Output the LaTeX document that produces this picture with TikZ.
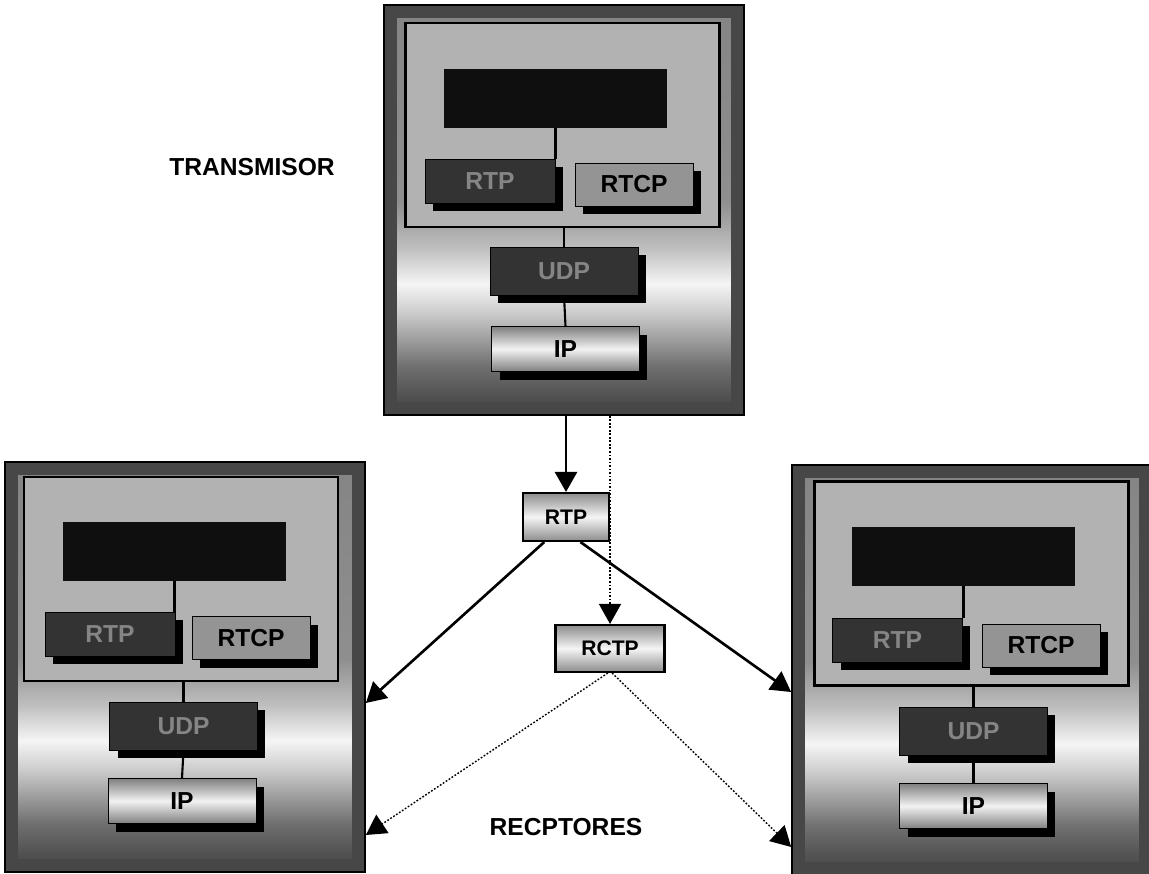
\documentclass[tikz,border=0pt]{standalone}
\usepackage{fontspec}
\setmainfont{Liberation Sans}
\usepackage{tikz}
\usetikzlibrary{arrows.meta,positioning}

\pgfdeclareverticalshading{fondo}{100bp}{color(0bp)=(black!75); color(25bp)=(black!75); color(31bp)=(black!56); color(37.5bp)=(black!20); color(41bp)=(black!4); color(45.5bp)=(black!26); color(51bp)=(black!44); color(75bp)=(black!48); color(100bp)=(black!48)}

\begin{document}
\begin{tikzpicture}[
    x=0.02cm, y=-0.02cm,
    panel/.style={draw, line width=1pt, fill=black!72, minimum width=7.2cm, minimum height=8.2cm, inner sep=0pt,
        path picture={
            \shade[shading=fondo] ([shift={(0.26cm,-0.26cm)}]path picture bounding box.north west) rectangle ([shift={(-0.26cm,0.26cm)}]path picture bounding box.south east);
        }},
    interior/.style={draw, line width=1.2pt, fill=black!30, minimum width=6.28cm, minimum height=4.08cm},
    app/.style={fill=black!94, minimum width=4.48cm, minimum height=1.18cm},
    sombra/.style={preaction={draw=none, fill=black, transform canvas={shift={(0.16cm,-0.16cm)}}}},
    oscura/.style={sombra, draw, fill=black!80, text=black!48, inner sep=0pt, font=\bfseries\fontsize{14}{16}\selectfont},
    clara/.style={sombra, draw, top color=black!50, bottom color=black!50, middle color=black!5, inner sep=0pt, font=\bfseries\fontsize{14}{16}\selectfont},
    media/.style={sombra, draw, fill=black!42, inner sep=0pt, minimum width=2.36cm, minimum height=0.86cm, font=\bfseries\fontsize{14}{16}\selectfont},
    caja/.style={draw, line width=1.2pt, top color=black!45, bottom color=black!45, middle color=black!4, inner sep=0pt, font=\bfseries\fontsize{12}{14}\selectfont},
    etiqueta/.style={font=\bfseries\fontsize{14}{16}\selectfont},
    enlace/.style={line width=1.2pt},
    flecha/.style={-{Triangle[length=0.4cm, width=0.44cm]}, line width=1.5pt},
    punteada/.style={-{Triangle[length=0.4cm, width=0.44cm]}, line width=0.8pt, dash pattern=on 1pt off 1pt}
]
    \useasboundingbox (0,0) rectangle (1149,873);

    % transmisor
    \node[panel] (tx) at (564,210) {};
    \node[interior] (tx-int) at (562.5,125) {};
    \node[app] (tx-app) at (555.5,98) {};
    \node[oscura, minimum width=2.6cm, minimum height=0.88cm] (tx-rtp) at (490,181) {RTP};
    \node[media] (tx-rtcp) at (634,184.5) {RTCP};
    \node[oscura, minimum width=2.96cm, minimum height=0.96cm] (tx-udp) at (564,271) {UDP};
    \node[clara, minimum width=2.96cm, minimum height=0.9cm] (tx-ip) at (565.5,349) {IP};
    \draw[enlace] (tx-app.south) -- (tx-app.south |- tx-rtp.north);
    \draw[enlace] (tx-int.south -| tx-udp) -- (tx-udp.north);
    \draw[enlace] (tx-udp.south) -- (tx-ip.north);

    % receptor izquierdo
    \node[panel] (ra) at (185,667) {};
    \node[interior] (ra-int) at (181,579) {};
    \node[app] (ra-app) at (174.5,551) {};
    \node[oscura, minimum width=2.6cm, minimum height=0.88cm] (ra-rtp) at (110,634) {RTP};
    \node[media] (ra-rtcp) at (251,638) {RTCP};
    \node[oscura, minimum width=2.96cm, minimum height=0.96cm] (ra-udp) at (183.5,726) {UDP};
    \node[clara, minimum width=2.96cm, minimum height=0.9cm] (ra-ip) at (182,801) {IP};
    \draw[enlace] (ra-app.south) -- (ra-app.south |- ra-rtp.north);
    \draw[enlace] (ra-int.south -| ra-udp) -- (ra-udp.north);
    \draw[enlace] (ra-udp.south) -- (ra-ip.north);

    % receptor derecho
    \node[panel] (rb) at (972,670) {};
    \node[interior] (rb-int) at (971.5,583.5) {};
    \node[app] (rb-app) at (963.5,556.5) {};
    \node[oscura, minimum width=2.6cm, minimum height=0.88cm] (rb-rtp) at (897.5,640) {RTP};
    \node[media] (rb-rtcp) at (1041,645.5) {RTCP};
    \node[oscura, minimum width=2.96cm, minimum height=0.96cm] (rb-udp) at (973.5,731) {UDP};
    \node[clara, minimum width=2.96cm, minimum height=0.9cm] (rb-ip) at (973.5,806) {IP};
    \draw[enlace] (rb-app.south) -- (rb-app.south |- rb-rtp.north);
    \draw[enlace] (rb-int.south -| rb-udp) -- (rb-udp.north);
    \draw[enlace] (rb-udp.south) -- (rb-ip.north);

    % paquetes
    \node[caja, minimum width=1.72cm, minimum height=0.96cm] (rtp) at (566,517) {RTP};
    \node[caja, minimum width=2.18cm, minimum height=0.94cm] (rctp) at (610,648.5) {RCTP};

    \node[etiqueta] (trans) at (252,167) {TRANSMISOR};
    \node[etiqueta] (recep) at (566,827) {RECPTORES};

    \draw[flecha] (tx.south -| rtp.north) -- (rtp.north);
    \draw[punteada] (tx.south -| rctp.north) -- (rctp.north);
    \draw[flecha] (rtp.229) -- ([yshift=-0.72cm]ra.east);
    \draw[flecha] (rtp.300) -- ([yshift=-0.44cm]rb.west);
    \draw[punteada] (rctp.265) -- ([yshift=-3.36cm]ra.east);
    \draw[punteada] (rctp.275) -- ([yshift=-3.54cm]rb.west);
\end{tikzpicture}
\end{document}
